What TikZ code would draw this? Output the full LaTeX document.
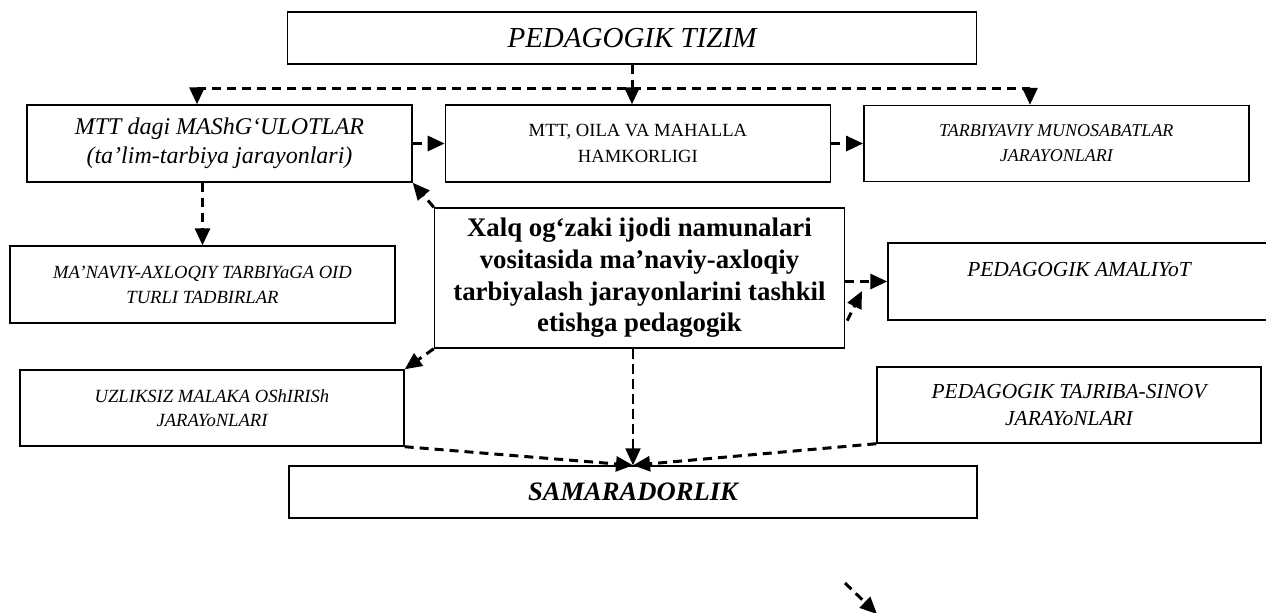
\documentclass[tikz,border=0pt]{standalone}
\usepackage{fontspec}
\setmainfont{Liberation Serif}
\usetikzlibrary{calc,chains,positioning,arrows.meta}

\begin{document}
\begin{tikzpicture}[x=0.5pt, y=-0.5pt,
	box/.style={rectangle, draw, line width=0.7pt, align=center, inner sep=2pt},
	flow/.style={line width=1.5pt, dash pattern=on 4.5pt off 3pt},
	thinflow/.style={line width=1pt, dash pattern=on 5pt off 2.5pt},
	>={Triangle[length=8.5pt,width=7.5pt]}, start chain, node distance=16pt]

\useasboundingbox (0,0) rectangle (1266,612);

\node[box, minimum width=344.5pt, minimum height=26pt, font=\fontsize{14.5}{17}\selectfont\itshape] at (632,38) (tizim) {PEDAGOGIK TIZIM};

\node[box, on chain, minimum width=192.5pt, minimum height=38.5pt, font=\fontsize{12}{14.5}\selectfont\itshape] at (219.5,143.5) (mash) {MTT dagi MAShG‘ULOTLAR\\(ta’lim-tarbiya jarayonlari)};
\node[box, on chain, minimum width=192.5pt, minimum height=38.5pt, font=\fontsize{9.3}{13}\selectfont] (hamkor) {MTT, OILA VA MAHALLA\\HAMKORLIGI};
\node[box, on chain, minimum width=192.5pt, minimum height=38pt, font=\fontsize{9}{12.5}\selectfont\itshape] (munos) {TARBIYAVIY MUNOSABATLAR\\JARAYONLARI};

\node[box, minimum width=192.5pt, minimum height=38.5pt, font=\fontsize{9.3}{12.5}\selectfont\itshape] at (202.5,284.5) (tadbir) {MA’NAVIY-AXLOQIY TARBIYaGA OID\\TURLI TADBIRLAR};
\node[box, minimum width=205pt, minimum height=70pt, font=\fontsize{13.4}{15.8}\selectfont\bfseries] at (639.5,278) (xalq) {Xalq og‘zaki ijodi namunalari\\vositasida ma’naviy-axloqiy\\tarbiyalash jarayonlarini tashkil\\etishga pedagogik};
\node[box, minimum width=191pt, minimum height=38.5pt, font=\fontsize{10.7}{12.5}\selectfont\itshape] at (1079,281.5) (amaliyot) {PEDAGOGIK AMALIYoT\\\mbox{}};

\node[box, minimum width=192pt, minimum height=38pt, font=\fontsize{9.3}{12}\selectfont\itshape] at (212,408) (uzlik) {UZLIKSIZ MALAKA OShIRISh\\JARAYoNLARI};
\node[box, minimum width=192pt, minimum height=38pt, font=\fontsize{10.7}{13.5}\selectfont\itshape] at (1069,405) (tajriba) {PEDAGOGIK TAJRIBA-SINOV\\JARAYoNLARI};
\node[box, minimum width=344pt, minimum height=26pt, font=\fontsize{13.3}{16}\selectfont\bfseries\itshape] at (633,492) (samara) {SAMARADORLIK};

\coordinate (busL) at (197,88);
\coordinate (busR) at (1030,88);
\coordinate (kink) at (862,291);
\coordinate (strayA) at (845,583);
\coordinate (strayB) at (877,614);

\draw[flow] (busL) -- (busR);
\draw[flow,->] (tizim.south) -- (tizim.south |- hamkor.north);
\draw[flow,->] (busL) -- (busL |- mash.north);
\draw[flow,->] (busR) -- (busR |- munos.north);
\draw[flow,->] (mash) -- (hamkor);
\draw[flow,->] (hamkor) -- (munos);
\draw[flow,->] (tadbir.north |- mash.south) -- (tadbir);
\draw[flow,->] (xalq.north west) -- (mash.south east);
\draw[flow,->] (xalq.south west) -- (uzlik.north east);
\draw[flow,->] let \p1 = (xalq.east), \p2 = (amaliyot.west) in (\x1,\y2) -- (\p2);
\draw[flow,->] ($(xalq.south east)+(2,-28)$) -- (kink);
\draw[thinflow,->] (samara.north |- xalq.south) -- (samara);
\draw[flow,->] (uzlik.south east) -- (samara.north);
\draw[flow,->] (tajriba.south west) -- (samara.north);
\draw[flow,->] (strayA) -- (strayB);
\end{tikzpicture}
\end{document}
